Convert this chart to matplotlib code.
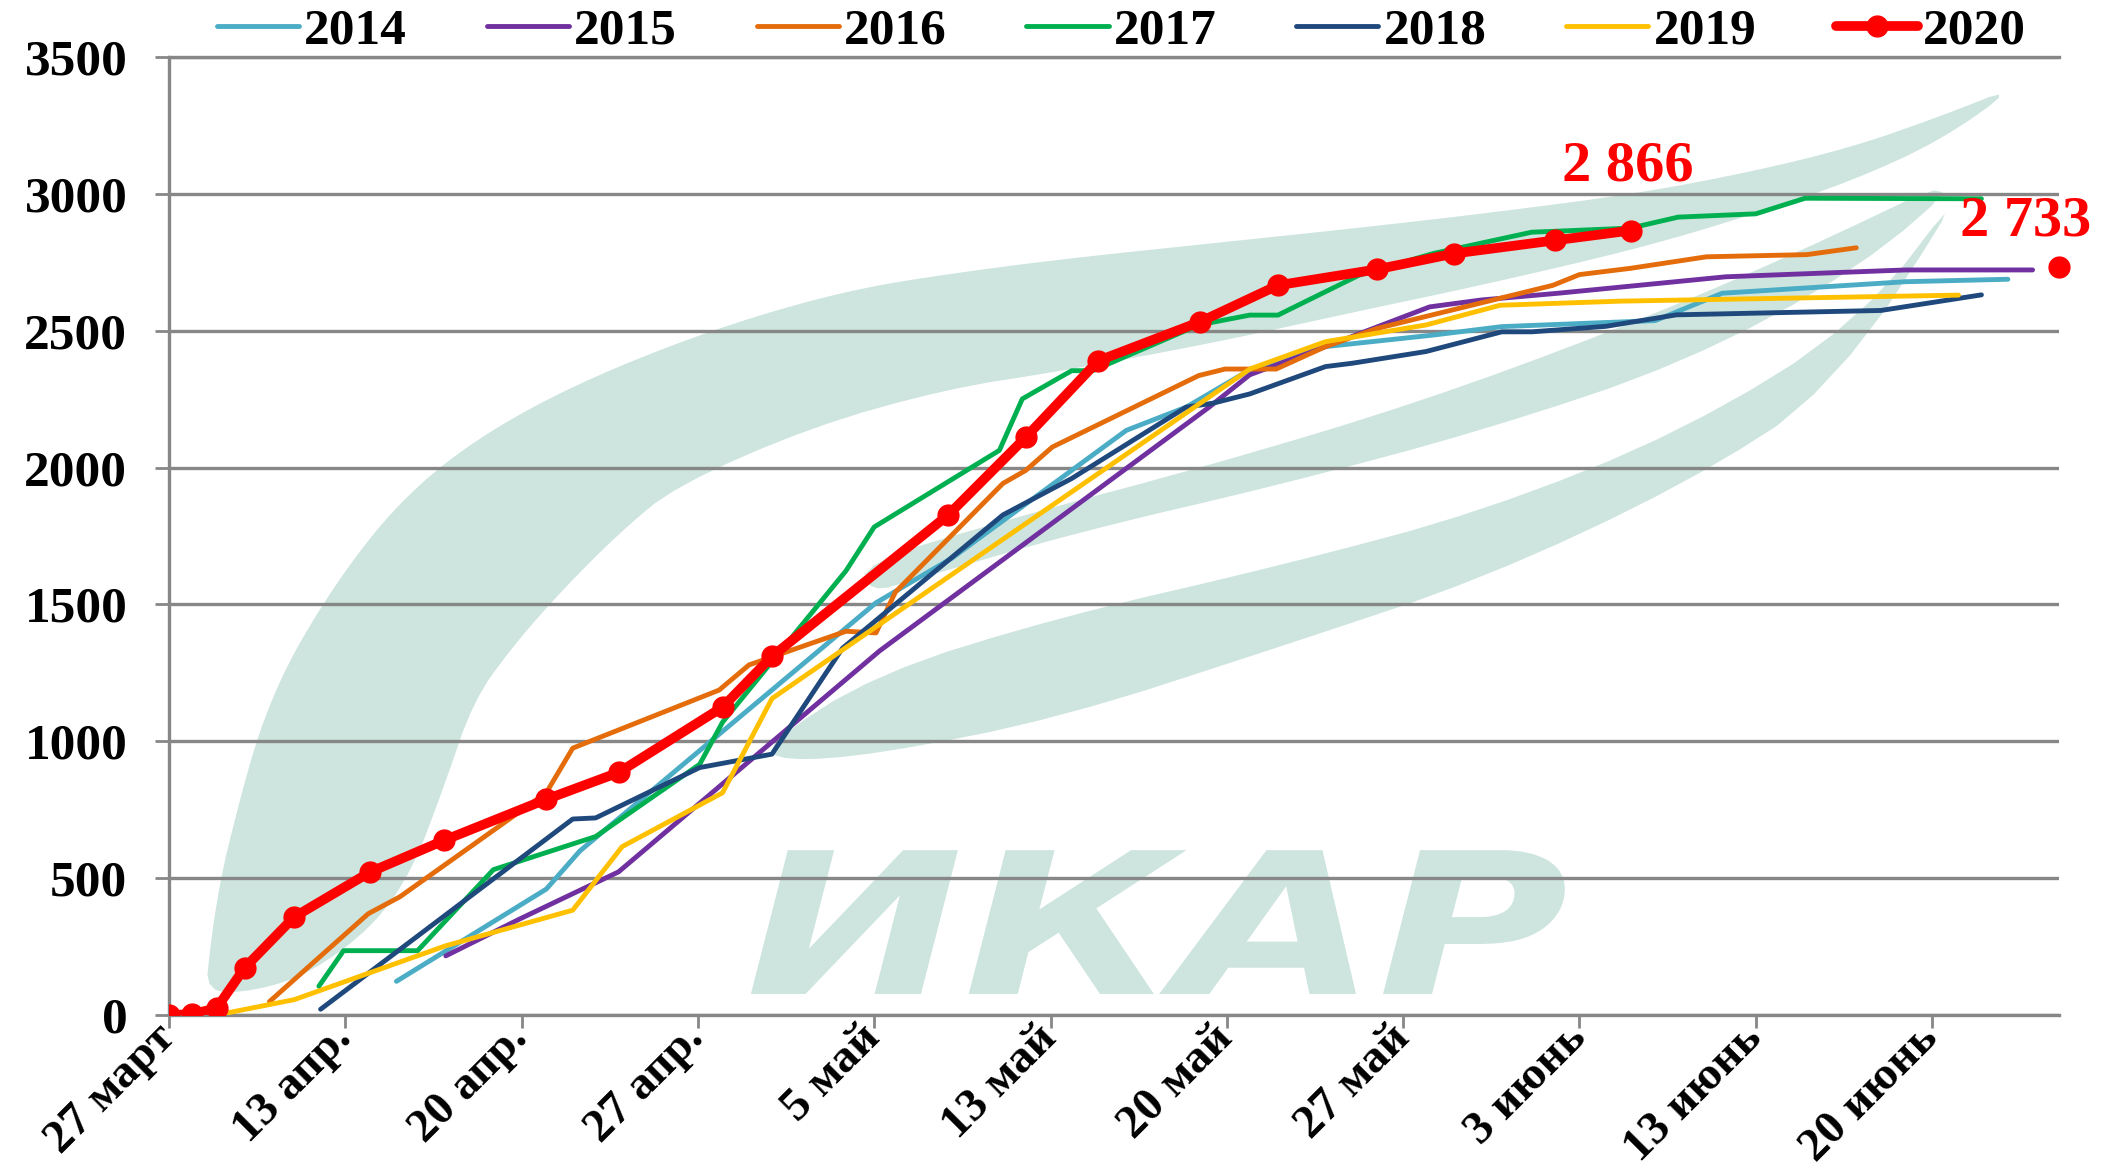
import matplotlib
matplotlib.use('Agg')
import matplotlib.pyplot as plt
from matplotlib.patches import Polygon
from matplotlib.patheffects import AbstractPathEffect
from matplotlib.transforms import Affine2D
import numpy as np

plt.rcParams['font.family'] = ['Liberation Serif', 'DejaVu Serif']
plt.rcParams['font.weight'] = 'bold'

# ---------------- data (x in tick-position units: 0 = "27 март", 1 = "13 апр.", ...) -------------
tick_labels = ['27 март', '13 апр.', '20 апр.', '27 апр.', '5 май', '13 май',
               '20 май', '27 май', '3 июнь', '13 июнь', '20 июнь']

x2014 = [1.29, 2.14, 2.33, 4.01, 4.44, 5.43, 5.77, 6.13, 6.56, 7.17, 7.56, 8.43, 8.81, 9.85, 10.43]
y2014 = [123, 460, 599, 1506, 1669, 2136, 2221, 2357, 2442, 2484, 2515, 2537, 2637, 2679, 2688]

x2015 = [1.57, 1.99, 2.55, 4.03, 5.90, 6.13, 6.56, 7.15, 7.44, 7.88, 8.83, 9.85, 10.57]
y2015 = [216, 351, 523, 1330, 2221, 2339, 2442, 2587, 2612, 2637, 2697, 2722, 2722]

x2016 = [0.57, 1.13, 1.31, 2.14, 2.29, 3.12, 3.29, 3.84, 4.01, 4.12, 4.73, 4.86, 5.01, 5.84,
         5.99, 6.28, 6.56, 6.85, 7.85, 8.00, 8.29, 8.72, 9.29, 9.57]
y2016 = [49, 370, 432, 812, 975, 1187, 1279, 1402, 1396, 1545, 1942, 1990, 2075, 2336,
         2360, 2360, 2442, 2508, 2666, 2705, 2728, 2770, 2778, 2803]

x2017 = [0.85, 0.99, 1.41, 1.84, 2.42, 3.01, 3.14, 3.84, 4.00, 4.71, 4.84, 5.12, 5.24, 5.84,
         6.13, 6.29, 6.75, 7.17, 7.73, 7.85, 8.29, 8.56, 9.00, 9.28, 10.28]
y2017 = [105, 235, 235, 531, 652, 916, 1070, 1623, 1783, 2063, 2251, 2354, 2354, 2521,
         2557, 2557, 2703, 2782, 2860, 2863, 2875, 2915, 2927, 2984, 2982]

x2018 = [0.86, 2.29, 2.42, 3.01, 3.42, 3.82, 4.73, 5.12, 5.77, 5.92, 6.13, 6.56, 6.71, 7.13,
         7.56, 7.73, 8.15, 8.55, 9.71, 10.28]
y2018 = [21, 716, 720, 904, 953, 1340, 1827, 1960, 2221, 2235, 2269, 2369, 2381, 2424,
         2496, 2496, 2516, 2558, 2574, 2631]

x2019 = [0.27, 0.71, 1.57, 2.29, 2.57, 3.14, 3.42, 6.13, 6.56, 7.13, 7.55, 8.23, 10.15]
y2019 = [0, 56, 253, 383, 615, 812, 1156, 2360, 2460, 2521, 2593, 2608, 2630]

x2020 = [0, 0.13, 0.27, 0.43, 0.71, 1.14, 1.56, 2.14, 2.55, 3.14, 3.42, 4.42, 4.86, 5.27,
         5.85, 6.29, 6.85, 7.29, 7.86, 8.29]
y2020 = [0, 3, 25, 173, 358, 522, 638, 788, 886, 1125, 1310, 1827, 2111, 2390,
         2533, 2666, 2724, 2782, 2830, 2866]

x_forecast = [10.72]
y_forecast = [2733]

series = [('2014', x2014, y2014, '#4bacc6'),
          ('2015', x2015, y2015, '#7030a0'),
          ('2016', x2016, y2016, '#e46c0a'),
          ('2017', x2017, y2017, '#00b050'),
          ('2018', x2018, y2018, '#1f497d'),
          ('2019', x2019, y2019, '#ffc000')]


class Stretch(AbstractPathEffect):
    """Draw text glyphs stretched horizontally about the text origin."""

    def __init__(self, sx=1.0, sy=1.0):
        super().__init__()
        self.sx, self.sy = sx, sy

    def draw_path(self, renderer, gc, tpath, affine, rgbFace=None):
        renderer.draw_path(gc, tpath, Affine2D().scale(self.sx, self.sy) + affine, rgbFace)


# ---------------- figure ----------------
W, H = 2114, 1176
fig = plt.figure(figsize=(W / 100, H / 100), dpi=100)
ax = fig.add_axes([169 / W, 161 / H, 1890 / W, 958 / H])

grid_c = '#878787'
ax.set_xlim(0, 10.72)
ax.set_ylim(0, 3500)

# --- watermark (IKAR logo), drawn in axes fraction coordinates ---
wm_c = '#cde5de'


def to_ax(pts):
    a = np.array(pts, dtype=float)
    return np.column_stack([(a[:, 0] - 125) / 1403, (753 - a[:, 1]) / 710])


def chaikin(p, n=2):
    for _ in range(n):
        q = np.roll(p, -1, axis=0)
        a = 0.75 * p + 0.25 * q
        b = 0.25 * p + 0.75 * q
        out = np.empty((2 * len(p), 2))
        out[0::2] = a
        out[1::2] = b
        p = out
    return p


bandA = [(152, 737), (156, 700), (160, 672), (166, 640), (174, 608), (184, 570), (195, 535),
         (212, 495), (235, 455), (262, 415), (292, 378), (330, 343), (380, 310), (440, 280),
         (510, 252), (577, 230), (640, 214), (702, 204), (786, 193), (900, 181),
         (1005, 170), (1110, 158), (1216, 144), (1300, 128), (1374, 110), (1440, 87), (1498, 64),
         (1440, 105), (1374, 135), (1300, 160), (1216, 185), (1100, 212), (1005, 232), (900, 255),
         (786, 276), (702, 289), (602, 317), (501, 361), (460, 395), (416, 439), (380, 480),
         (351, 520), (329, 584), (306, 645), (277, 687), (230, 722), (190, 735)]
bandB = [(640, 418), (750, 385), (900, 345), (1050, 300), (1200, 245), (1330, 190), (1466, 125),
         (1380, 200), (1250, 270), (1100, 320), (950, 360), (800, 395), (680, 430), (645, 440)]
bandC = [(567, 553), (650, 500), (786, 458), (950, 420), (1100, 380), (1250, 320), (1380, 240),
         (1466, 128), (1360, 290), (1250, 360), (1100, 430), (950, 480), (786, 533), (650, 560),
         (580, 565)]
for band in (bandA, bandB, bandC):
    pts = chaikin(to_ax(band), 2)
    ax.add_patch(Polygon(pts, closed=True, transform=ax.transAxes, facecolor=wm_c,
                         edgecolor='none', zorder=0))
ax.text(0.305, 0.022, 'ИКАР', transform=ax.transAxes, ha='left', va='baseline',
        family=['DejaVu Sans'], style='italic', weight='bold', fontsize=142, color=wm_c, zorder=0,
        path_effects=[Stretch(1.32, 1.0)])

# --- grid and axes ---
fs = 37
ax.set_yticks(np.arange(0, 3501, 500))
ax.set_xticks(np.arange(len(tick_labels)))
ax.set_xticklabels(tick_labels, rotation=45, ha='right', va='center', rotation_mode='anchor')
ax.yaxis.grid(True, color=grid_c, lw=2.4, zorder=0.5)
ax.set_axisbelow(True)
for s in ('left', 'bottom', 'top'):
    ax.spines[s].set_color(grid_c)
    ax.spines[s].set_linewidth(2.4)
ax.spines['right'].set_visible(False)
ax.tick_params(axis='x', direction='out', length=9, width=2, color=grid_c, pad=3, labelsize=34)
ax.tick_params(axis='y', direction='out', length=10, width=2, color=grid_c, pad=20, labelsize=fs)
for lab in ax.get_xticklabels() + ax.get_yticklabels():
    lab.set_fontweight('bold')

# --- series ---
for name, xs, ys, c in series:
    ax.plot(xs, ys, color=c, lw=3.5, label=name, zorder=3, solid_capstyle='round')
ax.plot(x2020, y2020, color='#ff0000', lw=7, marker='o', ms=15, label='2020', zorder=4,
        solid_capstyle='round')
ax.plot(x_forecast, y_forecast, ls='none', marker='o', ms=15, color='#ff0000', zorder=4,
        clip_on=False)

ax.annotate('2 866', xy=(x2020[-1], y2020[-1]), xytext=(-2, 46), textcoords='offset points',
            ha='center', va='center', color='#ff0000', fontsize=42, fontweight='bold')
ax.annotate('2 733', xy=(x_forecast[0], y_forecast[0]), xytext=(-24, 33), textcoords='offset points',
            ha='center', va='center', color='#ff0000', fontsize=42, fontweight='bold',
            annotation_clip=False)

leg = ax.legend(loc='center', bbox_to_anchor=(0.504, 1.027), ncol=7, frameon=False,
                handlelength=1.6, handletextpad=0.1, columnspacing=1.55, borderpad=0,
                prop={'size': fs, 'weight': 'bold'})

fig.savefig('out.png', dpi=100)
